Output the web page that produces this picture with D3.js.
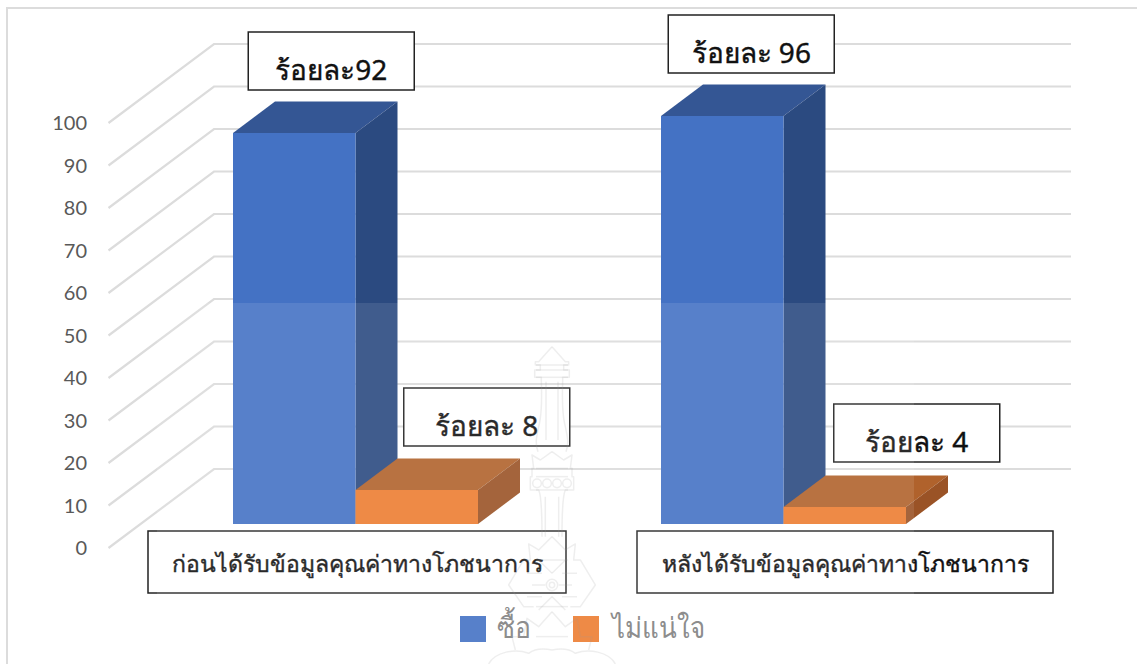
<!DOCTYPE html>
<html><head><meta charset="utf-8">
<script src="https://cdn.jsdelivr.net/npm/d3@7"></script>
<style>
html,body{margin:0;background:#fff;overflow:hidden}
svg{display:block}
.thai{font-family:"Noto Sans",sans-serif;fill:#111;stroke:#111;stroke-width:0.4}
</style></head><body>
<script>
// Chart data
const categories = ["ก่อนได้รับข้อมูลคุณค่าทางโภชนาการ", "หลังได้รับข้อมูลคุณค่าทางโภชนาการ"];
const seriesNames = ["ซื้อ", "ไม่แน่ใจ"];
const buyValues = [92, 96];
const unsureValues = [8, 4];
const buyLabels = ["ร้อยละ92", "ร้อยละ 96"];
const unsureLabels = ["ร้อยละ 8", "ร้อยละ 4"];
const yTicks = [0, 10, 20, 30, 40, 50, 60, 70, 80, 90, 100];

const W = 1137, H = 664;
const svg = d3.select("body").append("svg").attr("width", W).attr("height", H);

// Projection of the 3D column chart
const depth = {x: 42, y: -31.5};          // bar depth
const wall = {left: 108.5, back: 214, right: 1071, front: 24, rear: -55};

const y = d3.scaleLinear().domain([0, 100]).range([524, 99]);
const x0 = d3.scaleBand().domain(categories).range([233, 906]).paddingInner(183 / 428);
const x1 = d3.scaleBand().domain(seriesNames).range([0, x0.bandwidth()]);

const palette = {
  [seriesNames[0]]: {front: "#4472c4", top: "#345694", side: "#2b4a80"},
  [seriesNames[1]]: {front: "#ed7d31", top: "#b0622c", side: "#9a5326"}
};

// Frame around the chart
svg.append("path").attr("d", `M7 ${H}V8H${W}`).attr("fill", "none")
  .attr("stroke", "#dcdcdc").attr("stroke-width", 2);

// Gridlines: side wall and back wall
const grid = svg.append("g").attr("fill", "none").attr("stroke", "#dcdcdc").attr("stroke-width", 2.2);
grid.selectAll("path").data(yTicks).join("path")
  .attr("d", d => `M${wall.left} ${y(d) + wall.front}L${wall.back} ${y(d) + wall.rear}H${wall.right}`);

// Value axis labels
svg.append("g").selectAll("text").data(yTicks).join("text")
  .attr("x", 87).attr("y", d => y(d) + wall.front).attr("dy", "0.35em")
  .attr("text-anchor", "end").attr("font-family", "Lato").attr("font-size", 20)
  .attr("fill", "#595959").text(d => d);

// 3D columns
function drawBar(cat, name, value) {
  const x = x0(cat) + x1(name), w = x1.bandwidth();
  const top = y(value), base = y(0), c = palette[name];
  const g = svg.append("g");
  g.append("path").attr("fill", c.top)
    .attr("d", `M${x} ${top}l${depth.x} ${depth.y}h${w}l${-depth.x} ${-depth.y}z`);
  g.append("path").attr("fill", c.side)
    .attr("d", `M${x + w} ${top}l${depth.x} ${depth.y}V${base + depth.y}L${x + w} ${base}z`);
  g.append("rect").attr("x", x).attr("y", top).attr("width", w).attr("height", base - top).attr("fill", c.front);
}
categories.forEach((c, i) => {
  drawBar(c, seriesNames[0], buyValues[i]);
  drawBar(c, seriesNames[1], unsureValues[i]);
});

// Boxed annotations
function box(cx, yTop, w, h, label, size, baseline) {
  svg.append("rect").attr("x", cx - w / 2).attr("y", yTop).attr("width", w).attr("height", h)
    .attr("fill", "#fff").attr("stroke", "#222").attr("stroke-width", 1.5);
  svg.append("text").attr("class", "thai").attr("x", cx).attr("y", yTop + baseline)
    .attr("text-anchor", "middle").attr("font-size", size).text(label);
}
const valueBoxOffsets = [[[37, 43], [70, 44]], [[29, 43], [72, 45]]];
categories.forEach((c, i) => {
  [[seriesNames[0], buyValues[i], buyLabels[i]], [seriesNames[1], unsureValues[i], unsureLabels[i]]]
    .forEach(([name, v, label], j) => {
      const [dx, dy] = valueBoxOffsets[i][j];
      const cx = x0(c) + x1(name) + x1.bandwidth() / 2 + dx;
      box(cx, y(v) - dy - 58, 166, 58, label, 28, 48);
    });
});
const categoryBoxCenters = [357, 845];
categories.forEach((c, i) => box(categoryBoxCenters[i], 531, i ? 416 : 418, 62, c, 23, 41));

// Legend
const legendX = [460, 573], legendTextX = [497, 612], legendTextWidth = [34, 93];
seriesNames.forEach((name, i) => {
  svg.append("rect").attr("x", legendX[i]).attr("y", 616).attr("width", 26).attr("height", 26)
    .attr("fill", palette[name].front);
  svg.append("text").attr("x", legendTextX[i]).attr("y", 638)
    .attr("font-family", "Liberation Serif, DejaVu Serif, serif").attr("font-size", 29)
    .attr("font-weight", 300).attr("textLength", legendTextWidth[i]).attr("lengthAdjust", "spacingAndGlyphs")
    .attr("fill", "#808080").text(name);
});

// Translucent seal laid over the lower part of the chart
svg.append("rect").attr("x", 157).attr("y", 303).attr("width", 757).attr("height", H - 303)
  .attr("fill", "#fff").attr("opacity", 0.1);

const seal = svg.append("g").attr("transform", "translate(552,340) scale(0.3333)")
  .attr("fill", "none").attr("stroke", "#9a9a9a").attr("stroke-width", 4.5)
  .attr("stroke-opacity", 0.17).attr("stroke-linejoin", "round");
const halfOutline = [
  "M0 20L-40 65H-50V75H-35V90H-52V112H-32V125C-30 180 -32 230 -40 260C-46 290 -52 310 -42 335",
  "M0 335L-35 360L-60 345L-55 385H-60V410H-65V450H-40C-30 470 -30 540 -30 590",
  "M0 590L-40 630L-70 612L-65 660H-85L-130 735L-85 800H-55",
  "M0 815L-40 860L-75 835L-85 890H-120L-110 930",
  "M-190 972C-170 935 -110 925 -70 940C-50 925 -25 925 0 930"
];
[1, -1].forEach(s => {
  const side = seal.append("g").attr("transform", `scale(${s},1)`);
  side.selectAll("path").data(halfOutline).join("path").attr("d", d => d);
  [-15, -45].forEach(cx => side.append("circle").attr("cx", cx).attr("cy", 430).attr("r", 13));
  side.append("path").attr("d", "M-18 125V300M-20 470V590M-60 735H-20M-75 700H-30M-75 770H-30M-40 660L0 700M-40 810L0 770");
});
seal.append("circle").attr("cy", 735).attr("r", 17);
seal.append("circle").attr("cy", 735).attr("r", 8);
seal.selectAll("line").data([75, 90, 112, 385, 410, 450, 660, 800, 890]).join("line")
  .attr("x1", -48).attr("x2", 48).attr("y1", d => d).attr("y2", d => d);
</script></body></html>
